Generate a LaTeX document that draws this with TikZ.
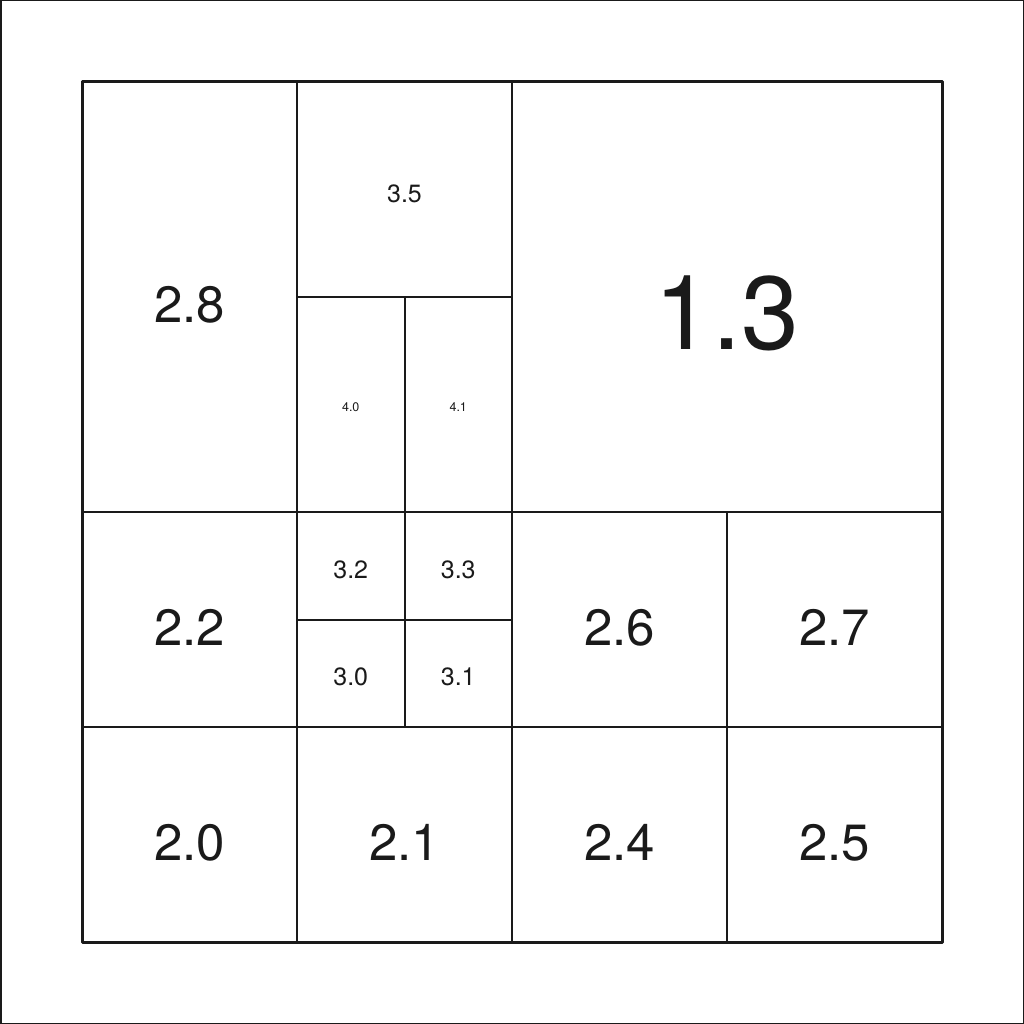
\documentclass[tikz,border=0pt]{standalone}
\usepackage{fontspec}
\setmainfont{TeX Gyre Heros}
\definecolor{ink}{HTML}{1A1A1A}
\tikzset{
  gridline/.style={draw=ink, line width=2pt},
  frameline/.style={draw=ink, line width=3pt, line cap=round, line join=round},
  lbl/.style={anchor=base, inner sep=0pt, text=ink}
}
\newcommand{\cellsize}[1]{\fontsize{#1}{#1}\selectfont}
\begin{document}
\begin{tikzpicture}[x=1pt, y=-1pt]
  \useasboundingbox (0,0) rectangle (1024,1024);
  \draw[draw=ink, line width=1.5pt] (0.75,0.75) rectangle (1023.25,1023.25);
  % inner grid lines
  \draw[gridline] (297,82) -- (297,942);
  \draw[gridline] (512,82) -- (512,942);
  \draw[gridline] (727,512) -- (727,942);
  \draw[gridline] (82,512) -- (942,512);
  \draw[gridline] (82,727) -- (942,727);
  \draw[gridline] (297,297) -- (512,297);
  \draw[gridline] (404.5,297) -- (404.5,727);
  \draw[gridline] (297,619.5) -- (512,619.5);
  % outer frame
  \draw[frameline] (82,82) rectangle (942,942);
  % labels
  \node[lbl, font=\cellsize{104}] (l13) at (727,349) {1.3};
  \node[lbl, font=\cellsize{51}] (l28) at (189.5,322.5) {2.8};
  \node[lbl, font=\cellsize{51}] (l22) at (189.5,645) {2.2};
  \node[lbl, font=\cellsize{51}] (l26) at (619.5,645) {2.6};
  \node[lbl, font=\cellsize{51}] (l27) at (834.5,645) {2.7};
  \node[lbl, font=\cellsize{51}] (l20) at (189.5,860) {2.0};
  \node[lbl, font=\cellsize{51}] (l21) at (404.5,860) {2.1};
  \node[lbl, font=\cellsize{51}] (l24) at (619.5,860) {2.4};
  \node[lbl, font=\cellsize{51}] (l25) at (834.5,860) {2.5};
  \node[lbl, font=\cellsize{25}] (l35) at (404.5,202.25) {3.5};
  \node[lbl, font=\cellsize{25}] (l32) at (350.75,578.25) {3.2};
  \node[lbl, font=\cellsize{25}] (l33) at (458.25,578.25) {3.3};
  \node[lbl, font=\cellsize{25}] (l30) at (350.75,685.75) {3.0};
  \node[lbl, font=\cellsize{25}] (l31) at (458.25,685.75) {3.1};
  \node[lbl, font=\cellsize{12.5}] (l40) at (350.75,411) {4.0};
  \node[lbl, font=\cellsize{12.5}] (l41) at (458.25,411) {4.1};
\end{tikzpicture}
\end{document}
